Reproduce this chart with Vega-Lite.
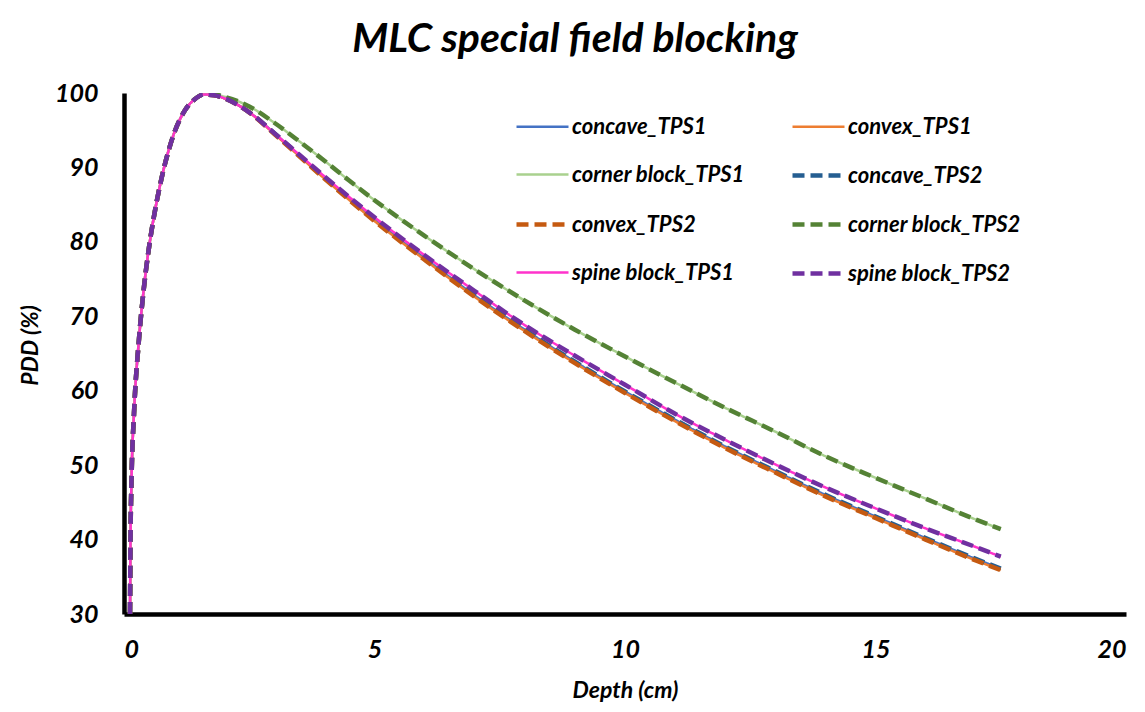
{
  "$schema": "https://vega.github.io/schema/vega-lite/v6.json",
  "width": 1002,
  "height": 521,
  "autosize": {"type": "none"},
  "padding": {"left": 124, "top": 93, "right": 19, "bottom": 98},
  "background": "white",
  "title": {
    "text": "MLC special field blocking",
    "font": "Lato",
    "fontSize": 41,
    "fontWeight": "bold",
    "fontStyle": "italic",
    "color": "#000000",
    "anchor": "middle",
    "dx": -50,
    "baseline": "bottom",
    "offset": -21
  },
  "data": {
    "values": [
      {"x": 0.12, "concave_TPS1": 30, "convex_TPS1": 30, "corner block_TPS1": 30, "concave_TPS2": 30, "convex_TPS2": 30, "corner block_TPS2": 30, "spine block_TPS1": 30, "spine block_TPS2": 30},
      {"x": 0.13, "concave_TPS1": 40, "convex_TPS1": 40, "corner block_TPS1": 40, "concave_TPS2": 40, "convex_TPS2": 40, "corner block_TPS2": 40, "spine block_TPS1": 40, "spine block_TPS2": 40},
      {"x": 0.15, "concave_TPS1": 48, "convex_TPS1": 48, "corner block_TPS1": 48, "concave_TPS2": 48, "convex_TPS2": 48, "corner block_TPS2": 48, "spine block_TPS1": 48, "spine block_TPS2": 48},
      {"x": 0.2, "concave_TPS1": 57, "convex_TPS1": 57, "corner block_TPS1": 57, "concave_TPS2": 57, "convex_TPS2": 57, "corner block_TPS2": 57, "spine block_TPS1": 57, "spine block_TPS2": 57},
      {"x": 0.3, "concave_TPS1": 67, "convex_TPS1": 67, "corner block_TPS1": 67, "concave_TPS2": 67, "convex_TPS2": 67, "corner block_TPS2": 67, "spine block_TPS1": 67, "spine block_TPS2": 67},
      {"x": 0.4, "concave_TPS1": 74, "convex_TPS1": 74, "corner block_TPS1": 74, "concave_TPS2": 74, "convex_TPS2": 74, "corner block_TPS2": 74, "spine block_TPS1": 74, "spine block_TPS2": 74},
      {"x": 0.5, "concave_TPS1": 79.3, "convex_TPS1": 79.3, "corner block_TPS1": 79.3, "concave_TPS2": 79.3, "convex_TPS2": 79.3, "corner block_TPS2": 79.3, "spine block_TPS1": 79.3, "spine block_TPS2": 79.3},
      {"x": 0.6, "concave_TPS1": 83.5, "convex_TPS1": 83.5, "corner block_TPS1": 83.5, "concave_TPS2": 83.5, "convex_TPS2": 83.5, "corner block_TPS2": 83.5, "spine block_TPS1": 83.5, "spine block_TPS2": 83.5},
      {"x": 0.7, "concave_TPS1": 87, "convex_TPS1": 87, "corner block_TPS1": 87, "concave_TPS2": 87, "convex_TPS2": 87, "corner block_TPS2": 87, "spine block_TPS1": 87, "spine block_TPS2": 87},
      {"x": 0.8, "concave_TPS1": 90, "convex_TPS1": 90, "corner block_TPS1": 90, "concave_TPS2": 90, "convex_TPS2": 90, "corner block_TPS2": 90, "spine block_TPS1": 90, "spine block_TPS2": 90},
      {"x": 0.9, "concave_TPS1": 92.5, "convex_TPS1": 92.5, "corner block_TPS1": 92.5, "concave_TPS2": 92.5, "convex_TPS2": 92.5, "corner block_TPS2": 92.5, "spine block_TPS1": 92.5, "spine block_TPS2": 92.5},
      {"x": 1.0, "concave_TPS1": 94.6, "convex_TPS1": 94.6, "corner block_TPS1": 94.6, "concave_TPS2": 94.6, "convex_TPS2": 94.6, "corner block_TPS2": 94.6, "spine block_TPS1": 94.6, "spine block_TPS2": 94.6},
      {"x": 1.2, "concave_TPS1": 97.5, "convex_TPS1": 97.5, "corner block_TPS1": 97.5, "concave_TPS2": 97.5, "convex_TPS2": 97.5, "corner block_TPS2": 97.5, "spine block_TPS1": 97.5, "spine block_TPS2": 97.5},
      {"x": 1.4, "concave_TPS1": 99.1, "convex_TPS1": 99.1, "corner block_TPS1": 99.1, "concave_TPS2": 99.1, "convex_TPS2": 99.1, "corner block_TPS2": 99.1, "spine block_TPS1": 99.1, "spine block_TPS2": 99.1},
      {"x": 1.6, "concave_TPS1": 99.8, "convex_TPS1": 99.8, "corner block_TPS1": 99.8, "concave_TPS2": 99.8, "convex_TPS2": 99.8, "corner block_TPS2": 99.8, "spine block_TPS1": 99.8, "spine block_TPS2": 99.8},
      {"x": 1.8, "concave_TPS1": 99.7, "convex_TPS1": 99.7, "corner block_TPS1": 99.8, "concave_TPS2": 99.7, "convex_TPS2": 99.7, "corner block_TPS2": 99.8, "spine block_TPS1": 99.7, "spine block_TPS2": 99.7},
      {"x": 2.0, "concave_TPS1": 99.3, "convex_TPS1": 99.3, "corner block_TPS1": 99.5, "concave_TPS2": 99.3, "convex_TPS2": 99.3, "corner block_TPS2": 99.5, "spine block_TPS1": 99.3, "spine block_TPS2": 99.3},
      {"x": 2.5, "concave_TPS1": 97.4, "convex_TPS1": 97.4, "corner block_TPS1": 98.2, "concave_TPS2": 97.4, "convex_TPS2": 97.4, "corner block_TPS2": 98.2, "spine block_TPS1": 97.4, "spine block_TPS2": 97.4},
      {"x": 3.0, "concave_TPS1": 94.6, "convex_TPS1": 94.5, "corner block_TPS1": 96.0, "concave_TPS2": 94.6, "convex_TPS2": 94.5, "corner block_TPS2": 96.0, "spine block_TPS1": 94.6, "spine block_TPS2": 94.6},
      {"x": 3.5, "concave_TPS1": 91.6, "convex_TPS1": 91.5, "corner block_TPS1": 93.5, "concave_TPS2": 91.6, "convex_TPS2": 91.5, "corner block_TPS2": 93.5, "spine block_TPS1": 91.7, "spine block_TPS2": 91.7},
      {"x": 4.0, "concave_TPS1": 88.6, "convex_TPS1": 88.5, "corner block_TPS1": 90.9, "concave_TPS2": 88.6, "convex_TPS2": 88.5, "corner block_TPS2": 90.9, "spine block_TPS1": 88.8, "spine block_TPS2": 88.8},
      {"x": 4.5, "concave_TPS1": 85.8, "convex_TPS1": 85.6, "corner block_TPS1": 88.2, "concave_TPS2": 85.8, "convex_TPS2": 85.6, "corner block_TPS2": 88.2, "spine block_TPS1": 86.0, "spine block_TPS2": 86.0},
      {"x": 5.0, "concave_TPS1": 83.0, "convex_TPS1": 82.8, "corner block_TPS1": 85.6, "concave_TPS2": 83.0, "convex_TPS2": 82.8, "corner block_TPS2": 85.6, "spine block_TPS1": 83.3, "spine block_TPS2": 83.3},
      {"x": 6.0, "concave_TPS1": 77.8, "convex_TPS1": 77.6, "corner block_TPS1": 80.8, "concave_TPS2": 77.8, "convex_TPS2": 77.6, "corner block_TPS2": 80.8, "spine block_TPS1": 78.2, "spine block_TPS2": 78.2},
      {"x": 7.0, "concave_TPS1": 72.8, "convex_TPS1": 72.6, "corner block_TPS1": 76.3, "concave_TPS2": 72.8, "convex_TPS2": 72.6, "corner block_TPS2": 76.3, "spine block_TPS1": 73.4, "spine block_TPS2": 73.4},
      {"x": 8.0, "concave_TPS1": 68.2, "convex_TPS1": 68.0, "corner block_TPS1": 72.1, "concave_TPS2": 68.2, "convex_TPS2": 68.0, "corner block_TPS2": 72.1, "spine block_TPS1": 68.8, "spine block_TPS2": 68.8},
      {"x": 9.0, "concave_TPS1": 63.9, "convex_TPS1": 63.7, "corner block_TPS1": 68.2, "concave_TPS2": 63.9, "convex_TPS2": 63.7, "corner block_TPS2": 68.2, "spine block_TPS1": 64.7, "spine block_TPS2": 64.7},
      {"x": 10.0, "concave_TPS1": 59.9, "convex_TPS1": 59.7, "corner block_TPS1": 64.6, "concave_TPS2": 59.9, "convex_TPS2": 59.7, "corner block_TPS2": 64.6, "spine block_TPS1": 60.8, "spine block_TPS2": 60.8},
      {"x": 11.0, "concave_TPS1": 56.1, "convex_TPS1": 55.9, "corner block_TPS1": 61.1, "concave_TPS2": 56.1, "convex_TPS2": 55.9, "corner block_TPS2": 61.1, "spine block_TPS1": 56.9, "spine block_TPS2": 56.9},
      {"x": 12.0, "concave_TPS1": 52.5, "convex_TPS1": 52.3, "corner block_TPS1": 57.7, "concave_TPS2": 52.5, "convex_TPS2": 52.3, "corner block_TPS2": 57.7, "spine block_TPS1": 53.4, "spine block_TPS2": 53.4},
      {"x": 13.0, "concave_TPS1": 49.2, "convex_TPS1": 49.0, "corner block_TPS1": 54.5, "concave_TPS2": 49.2, "convex_TPS2": 49.0, "corner block_TPS2": 54.5, "spine block_TPS1": 50.1, "spine block_TPS2": 50.1},
      {"x": 14.0, "concave_TPS1": 46.0, "convex_TPS1": 45.8, "corner block_TPS1": 51.2, "concave_TPS2": 46.0, "convex_TPS2": 45.8, "corner block_TPS2": 51.2, "spine block_TPS1": 47.0, "spine block_TPS2": 47.0},
      {"x": 15.0, "concave_TPS1": 43.1, "convex_TPS1": 42.9, "corner block_TPS1": 48.3, "concave_TPS2": 43.1, "convex_TPS2": 42.9, "corner block_TPS2": 48.3, "spine block_TPS1": 44.2, "spine block_TPS2": 44.2},
      {"x": 16.0, "concave_TPS1": 40.2, "convex_TPS1": 40.0, "corner block_TPS1": 45.5, "concave_TPS2": 40.2, "convex_TPS2": 40.0, "corner block_TPS2": 45.5, "spine block_TPS1": 41.5, "spine block_TPS2": 41.5},
      {"x": 17.0, "concave_TPS1": 37.4, "convex_TPS1": 37.2, "corner block_TPS1": 42.7, "concave_TPS2": 37.4, "convex_TPS2": 37.2, "corner block_TPS2": 42.7, "spine block_TPS1": 39.0, "spine block_TPS2": 39.0},
      {"x": 17.5, "concave_TPS1": 36.1, "convex_TPS1": 35.9, "corner block_TPS1": 41.4, "concave_TPS2": 36.1, "convex_TPS2": 35.9, "corner block_TPS2": 41.4, "spine block_TPS1": 37.7, "spine block_TPS2": 37.7}
    ]
  },
  "transform": [
    {"fold": ["concave_TPS1", "convex_TPS1", "corner block_TPS1", "concave_TPS2", "convex_TPS2", "corner block_TPS2", "spine block_TPS1", "spine block_TPS2"], "as": ["series", "pdd"]}
  ],
  "mark": {"type": "line", "clip": true, "strokeCap": "butt", "interpolate": "monotone"},
  "encoding": {
    "x": {
      "field": "x", "type": "quantitative",
      "scale": {"domain": [0, 20], "nice": false, "zero": false},
      "axis": {"values": [0, 5, 10, 15, 20], "title": "Depth (cm)", "grid": false, "ticks": false,
        "domainColor": "#000000", "domainWidth": 4.5, "labelPadding": 23, "titlePadding": 17}
    },
    "y": {
      "field": "pdd", "type": "quantitative",
      "scale": {"domain": [30, 100], "nice": false, "zero": false},
      "axis": {"values": [30, 40, 50, 60, 70, 80, 90, 100], "title": "PDD (%)", "grid": false, "ticks": false,
        "domainColor": "#000000", "domainWidth": 4.5, "labelPadding": 26, "titlePadding": 12, "titleY": 252}
    },
    "color": {
      "field": "series", "type": "nominal",
      "scale": {
        "domain": ["concave_TPS1", "corner block_TPS1", "convex_TPS2", "spine block_TPS1", "convex_TPS1", "concave_TPS2", "corner block_TPS2", "spine block_TPS2"],
        "range": ["#4472C4", "#A9D18E", "#C55A11", "#FF33CC", "#ED7D31", "#255E91", "#548235", "#7030A0"]
      },
      "legend": {
        "title": null, "orient": "none", "legendX": 390, "legendY": 6, "columns": 2,
        "symbolType": "stroke", "symbolSize": 2704, "labelFontSize": 22, "labelOffset": 1,
        "rowPadding": 9, "columnPadding": 38
      }
    },
    "strokeDash": {
      "field": "series", "type": "nominal",
      "scale": {
        "domain": ["concave_TPS1", "corner block_TPS1", "convex_TPS2", "spine block_TPS1", "convex_TPS1", "concave_TPS2", "corner block_TPS2", "spine block_TPS2"],
        "range": [[1, 0], [1, 0], [12, 6], [1, 0], [1, 0], [12, 6], [12, 6], [12, 6]]
      }
    },
    "strokeWidth": {
      "field": "series", "type": "nominal",
      "scale": {
        "type": "ordinal",
        "domain": ["concave_TPS1", "corner block_TPS1", "convex_TPS2", "spine block_TPS1", "convex_TPS1", "concave_TPS2", "corner block_TPS2", "spine block_TPS2"],
        "range": [2.5, 2.5, 4.5, 2.5, 2.5, 4.5, 4.5, 4.5]
      }
    }
  },
  "config": {
    "font": "Lato",
    "view": {"stroke": null},
    "axis": {
      "labelFont": "Lato", "labelFontSize": 25, "labelFontWeight": "bold", "labelFontStyle": "italic", "labelColor": "#000000",
      "titleFont": "Lato", "titleFontSize": 23, "titleFontWeight": "bold", "titleFontStyle": "italic", "titleColor": "#000000"
    },
    "legend": {
      "labelFont": "Lato", "labelFontWeight": "bold", "labelFontStyle": "italic", "labelColor": "#000000", "labelLimit": 400
    }
  }
}
